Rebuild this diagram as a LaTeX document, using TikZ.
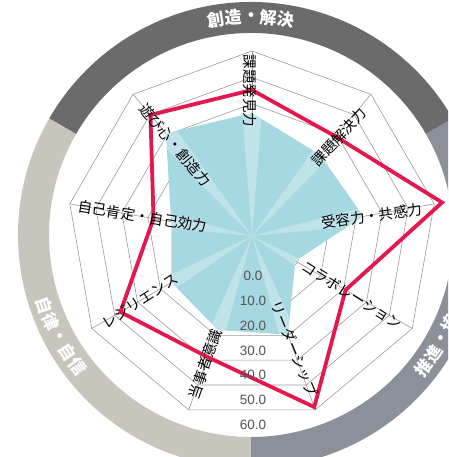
\documentclass[tikz,border=0pt]{standalone}
\usepackage{fontspec}
\newfontfamily\cjk{Noto Sans CJK JP}
\newfontfamily\numfont{Liberation Sans}
\definecolor{bandtop}{HTML}{6B6B6B}
\definecolor{bandleft}{HTML}{C8C6BC}
\definecolor{bandright}{HTML}{8C9199}
\definecolor{fillblue}{HTML}{A6D8E2}
\definecolor{redline}{HTML}{E5174F}
\definecolor{gridgray}{HTML}{9A9A9A}
\begin{document}
\begin{tikzpicture}[x=1pt,y=1pt,
  lab/.style={font=\cjk\fontsize{14.5}{15}\selectfont, inner sep=0pt, text=black},
  val/.style={font=\numfont\fontsize{13.5}{14}\selectfont, inner sep=0pt, text=black!67},
  bandtxt/.style={font=\cjk\bfseries\fontsize{17}{17}\selectfont, inner sep=0pt, text=white},
  gridline/.style={draw=gridgray, line width=0.6pt},
  series/.style={draw=redline, line width=3.8pt, line join=miter},
]
\useasboundingbox (0,0) rectangle (448,457);
\clip (0,0) rectangle (448,457);
% outer band
\begin{scope}[shift={(251,222)}]
  \fill[bandtop] (30:233) arc[start angle=30,end angle=150,radius=233] -- (150:202) arc[start angle=150,end angle=30,radius=202] -- cycle;
  \fill[bandleft] (150:233) arc[start angle=150,end angle=270,radius=233] -- (270:202) arc[start angle=270,end angle=150,radius=202] -- cycle;
  \fill[bandright] (270:233) arc[start angle=270,end angle=390,radius=233] -- (390:202) arc[start angle=390,end angle=270,radius=202] -- cycle;
  \def\st{4.6}
  \foreach \ch [count=\i from 0] in {創,造,・,解,決} {
    \pgfmathsetmacro\a{90+2*\st-\i*\st}
    \node[bandtxt, rotate=\a-90] (t\i) at (\a:218) {\ch};
  }
  \foreach \ch [count=\i from 0] in {自,律,・,自,信} {
    \pgfmathsetmacro\a{208-2*\st+\i*\st}
    \node[bandtxt, rotate=\a+90] (l\i) at (\a:218) {\ch};
  }
  \foreach \ch [count=\i from 0] in {推,進,・,協} {
    \pgfmathsetmacro\a{331.5-2*\st+\i*\st}
    \node[bandtxt, rotate=\a+90] (r\i) at (\a:218) {\ch};
  }
\end{scope}
% radar
\begin{scope}[shift={(252,221)}]
  \foreach \k in {1,...,7} {
    \pgfmathsetmacro\rr{\k*185/7}
    \draw[gridline] (90:\rr) -- (50:\rr) -- (10:\rr) -- (-30:\rr) -- (-70:\rr) -- (-110:\rr) -- (-150:\rr) -- (170:\rr) -- (130:\rr) -- cycle;
  }
  \foreach \a in {90,50,10,-30,-70,-110,-150,170,130}
    \draw[gridline] (0,0) -- (\a:185);
  \fill[fillblue] (90:123) -- (50:106) -- (10:113) -- (-30:50) -- (-70:105) -- (-110:100) -- (-150:93) -- (170:82) -- (130:134) -- cycle;
  \begin{scope}
    \clip (90:123) -- (50:106) -- (10:113) -- (-30:50) -- (-70:105) -- (-110:100) -- (-150:93) -- (170:82) -- (130:134) -- cycle;
    \foreach \a in {90,50,10,-30,-70,-110,-150,170,130}
      \fill[white, opacity=0.3] (0,0) -- (\a-4.5:200) -- (\a+4.5:200) -- cycle;
  \end{scope}
  \draw[series] (90:146) -- (50:130) -- (10:193) -- (-30:108) -- (-70:182) -- (-110:129) -- (-150:152) -- (170:100) -- (130:158) -- cycle;
\end{scope}
% axis labels
\node[lab, rotate=-90] (c0) at (250,366) {課題発見力};
\node[lab, rotate=47] (c1) at (339,320) {課題解決力};
\node[lab, rotate=8] (c2) at (372,241) {受容力・共感力};
\node[lab, rotate=-32] (c3) at (352,162) {コラボレーション};
\node[lab, rotate=-68] (c4) at (294.5,108.5) {リーダーシップ};
\node[lab, rotate=71] (c5) at (205,93) {当事者意識};
\node[lab, rotate=33] (c6) at (140,156) {レジリエンス};
\node[lab, rotate=-9] (c7) at (142.5,240.5) {自己肯定・自己効力};
\node[lab, rotate=-50] (c8) at (175,312) {遊び心・創造力};
% value labels
\node[val] (v0) at (253,181) {0.0};
\node[val] (v1) at (253,156) {10.0};
\node[val] (v2) at (253,131) {20.0};
\node[val] (v3) at (253,106.5) {30.0};
\node[val] (v4) at (253,82) {40.0};
\node[val] (v5) at (253,57) {50.0};
\node[val] (v6) at (253,32) {60.0};
\end{tikzpicture}
\end{document}
